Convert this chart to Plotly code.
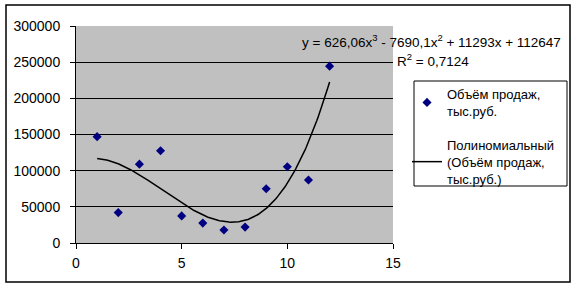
import numpy as np
import plotly.graph_objects as go

months = [1, 2, 3, 4, 5, 6, 7, 8, 9, 10, 11, 12]
sales = [147000, 42000, 109000, 127500, 37500, 27500, 18000, 22000, 75000, 105500, 87000, 244500]
poly_coeffs = [626.06, -7690.1, 11293, 112647]  # x^3, x^2, x, const
series_name = "Объём продаж,<br>тыс.руб."
trend_name = "Полиномиальный<br>(Объём продаж,<br>тыс.руб.)"
eq_line1 = "y = 626,06x<sup>3</sup> - 7690,1x<sup>2</sup> + 11293x + 112647"
eq_line2 = "R<sup>2</sup> = 0,7124"

xt = np.linspace(min(months), max(months), 200)
yt = np.polyval(poly_coeffs, xt)

W, H = 577, 288
L, R, T, B = 76, 184, 26, 45
pw, ph = W - L - R, H - T - B

def px_x(p):
    return (p - L) / pw

def px_y(p):
    return (H - B - p) / ph

FONT = "Liberation Sans, Arial, sans-serif"
FS = 13

fig = go.Figure()
fig.add_trace(go.Scatter(x=months, y=sales, mode="markers", name=series_name,
                         legendgroup="a",
                         marker=dict(symbol="diamond", color="#000080", size=7)))
fig.add_trace(go.Scatter(x=xt, y=yt, mode="lines", name=trend_name,
                         legendgroup="b",
                         line=dict(color="black", width=1.5)))

fig.update_layout(
    width=W, height=H,
    margin=dict(l=L, r=R, t=T, b=B),
    paper_bgcolor="white", plot_bgcolor="#C0C0C0",
    font=dict(family=FONT, size=FS, color="black"),
    xaxis=dict(range=[0, 15], dtick=5, showgrid=False, zeroline=False,
               showline=True, linecolor="black", linewidth=1,
               ticks="outside", ticklen=5, tickcolor="black",
               ticklabelstandoff=2, tickfont=dict(size=14)),
    yaxis=dict(range=[0, 300000], dtick=50000, showgrid=True, gridcolor="black",
               gridwidth=1, zeroline=False, showline=True, linecolor="black",
               linewidth=1, ticks="outside", ticklen=5, tickcolor="black",
               tickformat="d", ticklabelstandoff=7, tickfont=dict(size=14)),
    legend=dict(x=px_x(407), y=px_y(79), xanchor="left", yanchor="top",
                borderwidth=0, bgcolor="rgba(0,0,0,0)",
                font=dict(family=FONT, size=FS), tracegroupgap=14,
                itemwidth=30, traceorder="grouped"),
    showlegend=True,
)

fig.add_shape(type="rect", xref="paper", yref="paper", layer="below",
              x0=px_x(414), x1=px_x(567), y0=px_y(186), y1=px_y(81),
              line=dict(color="black", width=1), fillcolor="white")

fig.add_annotation(xref="paper", yref="paper", x=px_x(432), y=px_y(41),
                   text=eq_line1, showarrow=False, align="center",
                   xanchor="center", yanchor="middle",
                   font=dict(family=FONT, size=13.5, color="black"))
fig.add_annotation(xref="paper", yref="paper", x=px_x(433), y=px_y(60),
                   text=eq_line2, showarrow=False, align="center",
                   xanchor="center", yanchor="middle",
                   font=dict(family=FONT, size=13.5, color="black"))

fig.add_shape(type="rect", xref="paper", yref="paper",
              x0=px_x(6), x1=px_x(570), y0=px_y(282), y1=px_y(5),
              line=dict(color="black", width=1.5), fillcolor="rgba(0,0,0,0)")

fig.write_html("out.html")
